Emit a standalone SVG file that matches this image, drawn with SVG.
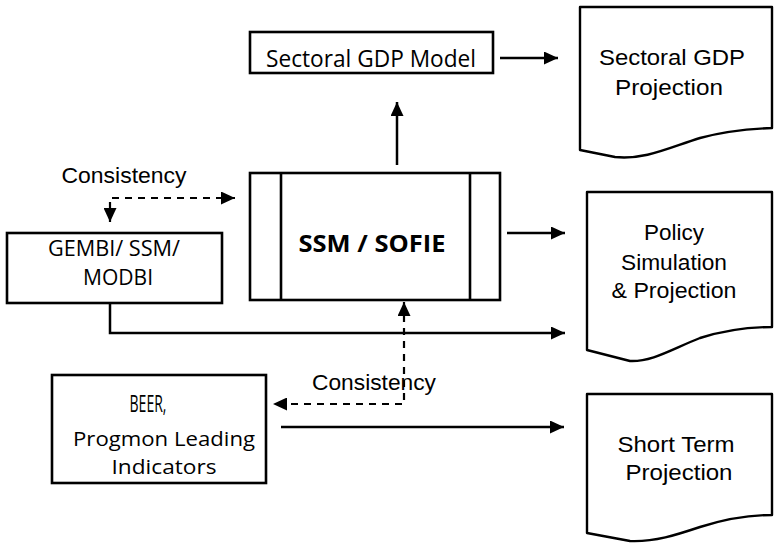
<svg xmlns="http://www.w3.org/2000/svg" width="775" height="543" viewBox="0 0 775 543">
<style>
.box{fill:#fff;stroke:#000;stroke-width:2.6}
.doc{fill:#fff;stroke:#000;stroke-width:2.4;stroke-linejoin:round}
.t{font-family:"Open Sans","Noto Sans",sans-serif;font-size:22px;fill:#000;text-anchor:middle}
.tb{font-family:"Open Sans","Noto Sans",sans-serif;font-size:23px;font-weight:bold;fill:#000;text-anchor:middle}
.a{font-family:"Liberation Sans",Arial,sans-serif;font-size:22.5px;fill:#000;text-anchor:middle}
.c{fill:none;stroke:#000;stroke-width:2.5}
.d{fill:none;stroke:#000;stroke-width:2.2;stroke-dasharray:7 6}
</style>
<defs>
<marker id="ah" viewBox="0 0 14 13" refX="14" refY="6.5" markerWidth="14" markerHeight="13" markerUnits="userSpaceOnUse" orient="auto-start-reverse">
<path d="M0,0 L14,6.5 L0,13 z" fill="#000"/>
</marker>
</defs>

<g id="sectoral-gdp-model">
<rect class="box" x="250" y="32" width="243" height="41"/>
<text class="t" x="371" y="67" style="font-size:23px" textLength="210" lengthAdjust="spacingAndGlyphs">Sectoral GDP Model</text>
</g>

<g id="ssm-sofie">
<rect class="box" x="250" y="173" width="250" height="127"/>
<line x1="281" y1="173" x2="281" y2="300" stroke="#000" stroke-width="2.6"/>
<line x1="470" y1="173" x2="470" y2="300" stroke="#000" stroke-width="2.6"/>
<text class="tb" x="372" y="252" textLength="147" lengthAdjust="spacingAndGlyphs">SSM / SOFIE</text>
</g>

<g id="gembi">
<rect class="box" x="7" y="233" width="215" height="70"/>
<text class="t" x="114" y="256" style="font-size:21px" textLength="132" lengthAdjust="spacingAndGlyphs">GEMBI/ SSM/</text>
<text class="t" x="118" y="285" style="font-size:21px" textLength="70" lengthAdjust="spacingAndGlyphs">MODBI</text>
</g>

<g id="beer">
<rect class="box" x="52" y="375" width="214" height="108"/>
<text class="t" x="148" y="412" style="font-size:23px" textLength="37" lengthAdjust="spacingAndGlyphs">BEER,</text>
<text class="t" x="164" y="446" style="font-size:20px" textLength="182" lengthAdjust="spacingAndGlyphs">Progmon Leading</text>
<text class="t" x="164" y="474" style="font-size:20px" textLength="105" lengthAdjust="spacingAndGlyphs">Indicators</text>
</g>

<g id="doc-sectoral-gdp-projection">
<path class="doc" d="M580,7 L772,7 L772,128 C745,129 722,132 700,138 C668,148 645,160 615,157 L580,150 Z"/>
<text class="a" x="672" y="65" textLength="146" lengthAdjust="spacingAndGlyphs">Sectoral GDP</text>
<text class="a" x="669" y="95" textLength="108" lengthAdjust="spacingAndGlyphs">Projection</text>
</g>

<g id="doc-policy-simulation">
<path class="doc" d="M587,192 L772,192 L772,327 C745,327 722,331 700,338 C672,349 652,362 630,361 L587,350 Z"/>
<text class="a" x="674" y="240" textLength="60" lengthAdjust="spacingAndGlyphs">Policy</text>
<text class="a" x="674" y="270" textLength="106" lengthAdjust="spacingAndGlyphs">Simulation</text>
<text class="a" x="674" y="298" textLength="125" lengthAdjust="spacingAndGlyphs">&amp; Projection</text>
</g>

<g id="doc-short-term-projection">
<path class="doc" d="M587,394 L772,394 L772,515 C745,515 722,520 700,527 C676,535 655,542 630,541 L587,533 Z"/>
<text class="a" x="676" y="452" textLength="117" lengthAdjust="spacingAndGlyphs">Short Term</text>
<text class="a" x="679" y="480" textLength="107" lengthAdjust="spacingAndGlyphs">Projection</text>
</g>

<g id="labels">
<text class="a" x="124" y="183" textLength="125" lengthAdjust="spacingAndGlyphs">Consistency</text>
<text class="a" x="374" y="390" textLength="124" lengthAdjust="spacingAndGlyphs">Consistency</text>
</g>

<g id="connectors">
<path class="c" stroke-width="3.2" d="M500,58 L558,58" marker-end="url(#ah)"/>
<path class="c" d="M397,165 L397,102" marker-end="url(#ah)"/>
<path class="c" d="M507,233 L565,233" marker-end="url(#ah)"/>
<path class="c" d="M110,302 L110,333 L565,333" marker-end="url(#ah)"/>
<path class="c" d="M281,427 L564,427" marker-end="url(#ah)"/>
<path class="d" d="M110,222 L110,198 L235,198" marker-start="url(#ah)" marker-end="url(#ah)"/>
<path class="d" d="M404,302 L404,404 L273,404" marker-start="url(#ah)" marker-end="url(#ah)"/>
</g>
</svg>
